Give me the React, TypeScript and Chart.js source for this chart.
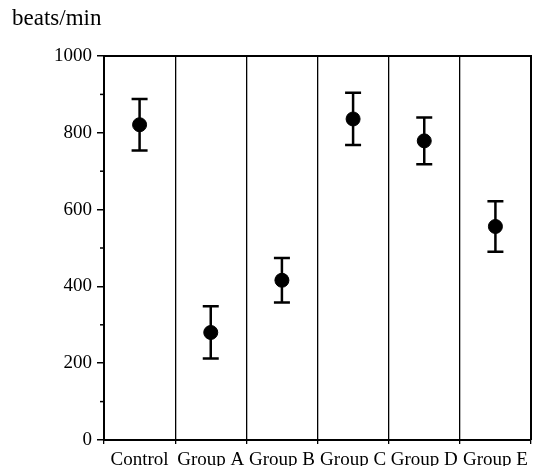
import React, { useEffect, useRef } from "react";
import { Chart, registerables } from "chart.js";

Chart.register(...registerables);

const categories = ["Control", "Group A", "Group B", "Group C", "Group D", "Group E"];
const means = [821, 280, 416, 836, 779, 556];
const errors = [67, 68, 58, 68, 61, 66];
const yTicks = [0, 200, 400, 600, 800, 1000];
const unitLabel = "beats/min";

const FONT = "'Liberation Serif', 'Times New Roman', serif";

const extrasPlugin = {
  id: "extras",
  afterDatasetsDraw(chart: any) {
    const ctx = chart.ctx;
    const x = chart.scales.x;
    const y = chart.scales.y;
    const area = chart.chartArea;
    ctx.save();
    // error bars
    ctx.strokeStyle = "#000";
    ctx.lineWidth = 2.5;
    means.forEach((m, i) => {
      const px = x.getPixelForValue(i);
      const top = y.getPixelForValue(m + errors[i]);
      const bot = y.getPixelForValue(m - errors[i]);
      ctx.beginPath();
      ctx.moveTo(px, top);
      ctx.lineTo(px, bot);
      ctx.moveTo(px - 8, top);
      ctx.lineTo(px + 8, top);
      ctx.moveTo(px - 8, bot);
      ctx.lineTo(px + 8, bot);
      ctx.stroke();
    });
    // minor ticks
    ctx.lineWidth = 1.5;
    for (let v = 100; v < 1000; v += 200) {
      const py = y.getPixelForValue(v);
      ctx.beginPath();
      ctx.moveTo(area.left - 4, py);
      ctx.lineTo(area.left, py);
      ctx.stroke();
    }
    // top and right border
    ctx.lineWidth = 2;
    ctx.beginPath();
    ctx.moveTo(area.left, area.top);
    ctx.lineTo(area.right, area.top);
    ctx.lineTo(area.right, area.bottom);
    ctx.stroke();
    // unit label
    ctx.fillStyle = "#000";
    ctx.font = `23px ${FONT}`;
    ctx.textBaseline = "alphabetic";
    ctx.textAlign = "left";
    ctx.fillText(unitLabel, 12, 25);
    ctx.restore();
  },
};

export default function App() {
  const ref = useRef<HTMLCanvasElement | null>(null);
  useEffect(() => {
    if (!ref.current) return;
    const chart = new Chart(ref.current, {
      type: "line",
      data: {
        labels: categories,
        datasets: [
          {
            data: means,
            showLine: false,
            pointRadius: 7,
            pointHoverRadius: 7,
            pointBackgroundColor: "#000",
            pointBorderColor: "#000",
            borderColor: "#000",
          },
        ],
      },
      options: {
        responsive: false,
        animation: false,
        events: [],
        layout: { autoPadding: false, padding: { left: 0, right: 5, top: 56, bottom: 0 } },
        plugins: { legend: { display: false }, tooltip: { enabled: false }, title: { display: false } },
        scales: {
          x: {
            type: "category",
            offset: true,
            grid: {
              offset: true,
              color: "#000",
              lineWidth: 1.3,
              tickLength: 4,
              drawOnChartArea: true,
            },
            border: { color: "#000", width: 2 },
            ticks: {
              color: "#000",
              font: { family: FONT, size: 19 },
              padding: 5,
              maxRotation: 0,
              autoSkip: false,
            },
            afterFit: (s: any) => {
              s.height = 26;
              s.paddingLeft = 0;
              s.paddingRight = 0;
            },
          },
          y: {
            min: 0,
            max: 1000,
            afterBuildTicks: (s: any) => {
              s.ticks = yTicks.map((v) => ({ value: v }));
            },
            grid: {
              drawOnChartArea: false,
              color: "#000",
              tickLength: 7,
              lineWidth: 1.5,
            },
            border: { color: "#000", width: 2 },
            ticks: {
              color: "#000",
              font: { family: FONT, size: 19 },
              padding: 5,
              callback: (v: any) => String(v),
            },
            afterFit: (s: any) => {
              s.width = 104;
              s.paddingTop = 0;
              s.paddingBottom = 0;
            },
          },
        },
      },
      plugins: [extrasPlugin],
    });
    return () => chart.destroy();
  }, []);
  return (
    <div style={{ position: "absolute", left: 0, top: 0, width: 536, height: 466, background: "#fff" }}>
      <canvas ref={ref} width={536} height={466} style={{ display: "block" }} />
    </div>
  );
}
